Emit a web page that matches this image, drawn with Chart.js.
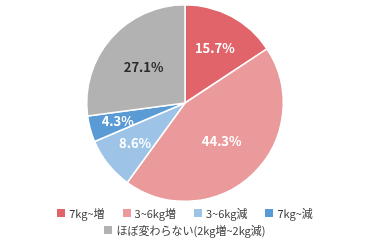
<!DOCTYPE html>
<html><head><meta charset="utf-8">
<script src="https://cdn.jsdelivr.net/npm/chart.js@4"></script>
<style>html,body{margin:0;padding:0;background:#fff}#wrap{width:370px;height:241px}</style>
</head><body><div id="wrap"><canvas id="c" width="370" height="241"></canvas></div>
<script>
const categories = ['7kg~増', '3~6kg増', '3~6kg減', '7kg~減', 'ほぼ変わらない(2kg増~2kg減)'];
const shares = [15.7, 44.3, 8.6, 4.3, 27.1];
const valueLabels = ['15.7%', '44.3%', '8.6%', '4.3%', '27.1%'];
const colors = ['#e0646a', '#eb9a9c', '#9dc3e6', '#5b9bd5', '#b2b2b2'];
const labelColors = ['#ffffff', '#ffffff', '#ffffff', '#ffffff', '#2b2b2b'];
const labelRadius = [0.64, 0.54, 0.65, 0.71, 0.56];
const legendRows = [[0, 1, 2, 3], [4]];

const FONT = '"Noto Sans CJK JP", "Noto Sans", sans-serif';

const sliceLabels = {
  id: 'sliceLabels',
  afterDatasetsDraw(chart) {
    const ctx = chart.ctx;
    const meta = chart.getDatasetMeta(0);
    ctx.save();
    ctx.font = 'bold 13px ' + FONT;
    ctx.textAlign = 'center';
    ctx.textBaseline = 'middle';
    meta.data.forEach((arc, i) => {
      const p = arc.getProps(['x', 'y', 'startAngle', 'endAngle', 'outerRadius'], true);
      const mid = (p.startAngle + p.endAngle) / 2;
      const r = p.outerRadius * labelRadius[i];
      ctx.fillStyle = labelColors[i];
      ctx.fillText(valueLabels[i], p.x + Math.cos(mid) * r, p.y + Math.sin(mid) * r);
    });
    ctx.restore();
  }
};

const bottomLegend = {
  id: 'bottomLegend',
  afterDraw(chart) {
    const ctx = chart.ctx;
    const ca = chart.chartArea;
    const cx = (ca.left + ca.right) / 2;
    const box = 8, gapBT = 4, gapItem = 18;
    ctx.save();
    ctx.font = '11px ' + FONT;
    ctx.textBaseline = 'middle';
    ctx.textAlign = 'left';
    legendRows.forEach((row, ri) => {
      const y = ca.bottom + 11 + ri * 17;
      const widths = row.map(i => box + gapBT + ctx.measureText(categories[i]).width);
      const total = widths.reduce((a, b) => a + b, 0) + gapItem * (row.length - 1);
      let x = cx - total / 2;
      row.forEach((i, k) => {
        ctx.fillStyle = colors[i];
        ctx.fillRect(Math.round(x), Math.round(y - box / 2), box, box);
        ctx.fillStyle = '#3a3a3a';
        ctx.fillText(categories[i], x + box + gapBT, y + 0.5);
        x += widths[k] + gapItem;
      });
    });
    ctx.restore();
  }
};

new Chart(document.getElementById('c'), {
  type: 'pie',
  data: {
    labels: categories,
    datasets: [{
      data: shares,
      backgroundColor: colors,
      borderColor: '#ffffff',
      borderWidth: 1.5
    }]
  },
  options: {
    responsive: false,
    animation: false,
    devicePixelRatio: 1,
    layout: { padding: { top: 4, bottom: 39, left: 0, right: 0 } },
    plugins: {
      legend: { display: false },
      tooltip: { enabled: false },
      title: { display: false }
    }
  },
  plugins: [sliceLabels, bottomLegend]
});
</script>
</body></html>
